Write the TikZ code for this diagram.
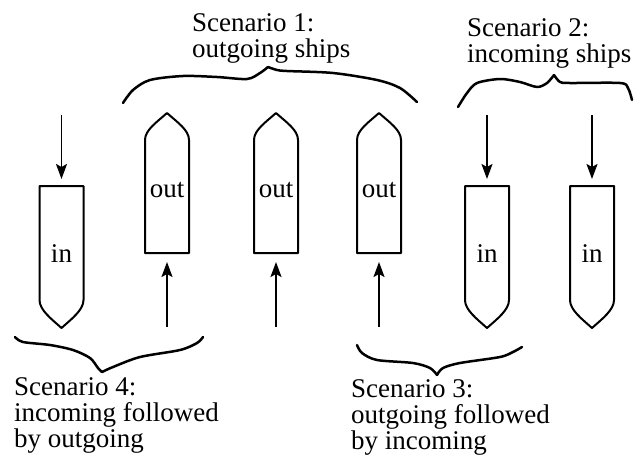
\documentclass[tikz,border=0pt]{standalone}
\usepackage{fontspec}
\setmainfont{Liberation Serif}
\usetikzlibrary{arrows.meta}
\begin{document}
\begin{tikzpicture}[x=1pt,y=-1pt,
  shipline/.style={line width=2pt, line join=round},
  arr/.style={line width=1.9pt, -{Stealth[length=15pt,width=11pt,inset=3pt]}},
  bracestyle/.style={line width=2.5pt, line cap=round, line join=round},
  lbl/.style={inner sep=0pt, anchor=base, font=\fontsize{27}{26}\selectfont},
  captxt/.style={inner sep=0pt, align=left, anchor=base west, font=\fontsize{27}{26}\selectfont}]
\useasboundingbox (0,0) rectangle (634,456);

% incoming ships
\foreach \n/\cx in {inA/61.5, inB/487, inC/592}{
  \draw[shipline] (\cx-22,186) -- (\cx+22,186) -- (\cx+22,300)
     .. controls (\cx+22,310) and (\cx+10,319) .. (\cx,328)
     .. controls (\cx-10,319) and (\cx-22,310) .. (\cx-22,300) -- cycle;
  \node[lbl] (\n) at (\cx,262) {in};
  \coordinate (\n-s) at (\cx,115);
  \coordinate (\n-t) at (\cx,179);
  \draw[arr] (\n-s) -- (\n-t);
}

% outgoing ships
\foreach \n/\cx in {outA/167, outB/276, outC/379}{
  \draw[shipline] (\cx-22,253) -- (\cx+22,253) -- (\cx+22,140)
     .. controls (\cx+22,130) and (\cx+10,122) .. (\cx,113)
     .. controls (\cx-10,122) and (\cx-22,130) .. (\cx-22,140) -- cycle;
  \node[lbl] (\n) at (\cx,197) {out};
  \coordinate (\n-s) at (\cx,327);
  \coordinate (\n-t) at (\cx,262);
  \draw[arr] (\n-s) -- (\n-t);
}

% braces
\draw[bracestyle] plot[smooth, tension=0.5] coordinates {(123,103) (133,90) (150,80) (183,76) (217,77) (247,79) (260,73) (268,67)};
\draw[bracestyle] plot[smooth, tension=0.5] coordinates {(268,67) (277,70) (287,71) (333,73) (377,80) (400,88) (417,102)};

\draw[bracestyle] plot[smooth, tension=0.5] coordinates {(458,107) (467,93) (477,83) (500,79) (520,82) (537,87) (547,83) (554,75)};
\draw[bracestyle] plot[smooth, tension=0.5] coordinates {(554,75) (560,82) (570,83) (620,83) (628,88) (632,100)};

\draw[bracestyle] plot[smooth, tension=0.5] coordinates {(15,337) (23,342) (50,345) (73,350) (90,358) (98,368) (102,372)};
\draw[bracestyle] plot[smooth, tension=0.5] coordinates {(102,372) (113,367) (140,357) (180,350) (197,343) (203,337)};

\draw[bracestyle] plot[smooth, tension=0.5] coordinates {(357,345) (362,353) (377,360) (413,363) (430,368) (437,375)};
\draw[bracestyle] plot[smooth, tension=0.5] coordinates {(437,375) (443,368) (460,363) (500,357) (513,352) (522,347)};

% captions (anchor = baseline of the last line)
\node[captxt] (s1) at (192,57) {Scenario 1:\\outgoing ships};
\node[captxt] (s2) at (467,62) {Scenario 2:\\incoming ships};
\node[captxt] (s4) at (14,447) {Scenario 4:\\incoming followed\\by outgoing};
\node[captxt] (s3) at (351,449) {Scenario 3:\\outgoing followed\\by incoming};
\end{tikzpicture}
\end{document}
